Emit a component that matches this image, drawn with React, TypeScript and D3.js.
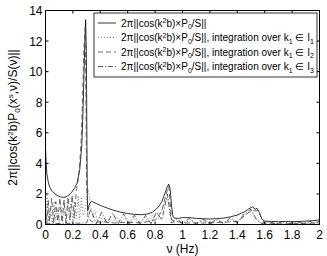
import React from "react";
import * as d3 from "d3";

const width = 327;
const height = 256;
const margin = { left: 45.5, right: 7.5, top: 10.5, bottom: 31.5 };
const font = "Liberation Sans, Arial, Helvetica, sans-serif";

const xTicks = [0, 0.2, 0.4, 0.6, 0.8, 1, 1.2, 1.4, 1.6, 1.8, 2];
const yTicks = [0, 2, 4, 6, 8, 10, 12, 14];

// full norm
const freqMain = [
  0, 0.005, 0.01, 0.02, 0.03, 0.05, 0.07, 0.09, 0.11, 0.13, 0.15, 0.17, 0.19, 0.21,
  0.23, 0.25, 0.265, 0.275, 0.285, 0.293, 0.298, 0.302, 0.305, 0.308, 0.312, 0.318,
  0.325, 0.335, 0.35, 0.37, 0.4, 0.45, 0.5, 0.55, 0.6, 0.65, 0.7, 0.74, 0.78, 0.82,
  0.85, 0.87, 0.89, 0.9, 0.91, 0.92, 0.93, 0.94, 0.97, 1.0, 1.05, 1.1, 1.15, 1.2,
  1.25, 1.3, 1.35, 1.4, 1.45, 1.48, 1.51, 1.53, 1.545, 1.56, 1.58, 1.6, 1.65, 1.7,
  1.75, 1.8, 1.85, 1.9, 1.95, 2.0,
];
const valMain = [
  5.0, 4.0, 3.3, 2.8, 2.45, 2.15, 1.98, 1.88, 1.8, 1.78, 1.8, 1.92, 2.1, 2.35,
  2.7, 3.6, 5.2, 7.8, 11.2, 13.4, 11.5, 6.0, 2.0, 0.9, 1.0, 1.25,
  1.4, 1.52, 1.45, 1.38, 1.25, 1.08, 0.92, 0.8, 0.72, 0.66, 0.64, 0.68, 0.8, 1.1,
  1.5, 2.0, 2.5, 2.65, 2.3, 1.2, 0.55, 0.42, 0.4, 0.45, 0.45, 0.4, 0.38, 0.36,
  0.38, 0.42, 0.5, 0.62, 0.82, 1.0, 1.15, 1.0, 1.05, 0.8, 0.35, 0.22, 0.2, 0.18,
  0.2, 0.18, 0.2, 0.22, 0.25, 0.3,
];

// integration over k1 in I1
const freqI1 = [
  0, 0.012, 0.022, 0.035, 0.05, 0.062, 0.075, 0.088, 0.1, 0.112, 0.125, 0.138, 0.15,
  0.162, 0.175, 0.188, 0.2, 0.212, 0.225, 0.238, 0.25, 0.262, 0.275, 0.29, 0.3, 0.31,
  0.32, 0.33, 0.345, 0.36, 0.38, 0.4, 0.42, 0.45, 0.48, 0.52, 0.55, 0.58, 0.62, 0.65,
  0.68, 0.72, 0.75, 0.78, 0.82, 0.86, 0.89, 0.91, 0.94, 0.98, 1.02, 1.06, 1.1, 1.15,
  1.2, 1.25, 1.3, 1.35, 1.4, 1.45, 1.5, 1.53, 1.57, 1.62, 1.68, 1.73, 1.8, 1.86, 1.92,
  2.0,
];
const valI1 = [
  0.3, 1.9, 0.2, 1.2, 0.1, 1.5, 0.3, 1.0, 0.1, 1.3, 0.2, 1.6, 0.1,
  1.4, 0.3, 1.7, 0.2, 1.5, 0.4, 1.9, 0.3, 1.8, 0.6, 1.0, 1.6, 2.3,
  1.8, 1.2, 0.5, 0.9, 0.2, 0.6, 0.1, 0.4, 0.1, 0.5, 0.15, 0.45, 0.1, 0.4,
  0.1, 0.45, 0.2, 0.6, 0.3, 1.2, 1.8, 0.6, 0.1, 0.3, 0.1, 0.3, 0.05, 0.25,
  0.05, 0.25, 0.1, 0.3, 0.2, 0.6, 0.9, 0.5, 0.1, 0.15, 0.05, 0.15, 0.05, 0.15, 0.05,
  0.2,
];

// integration over k1 in I2
const freqI2 = [
  0, 0.01, 0.02, 0.03, 0.045, 0.06, 0.075, 0.09, 0.105, 0.12, 0.135, 0.15, 0.165,
  0.18, 0.195, 0.21, 0.225, 0.24, 0.25, 0.26, 0.27, 0.28, 0.29, 0.3, 0.31, 0.32,
  0.36, 0.4, 0.5, 0.6, 0.7, 0.8, 0.85, 0.88, 0.9, 0.92, 1.0, 1.2, 1.4, 1.5, 1.55,
  1.6, 1.8, 2.0,
];
const valI2 = [
  1.2, 0.1, 1.6, 0.2, 1.7, 0.1, 1.5, 0.2, 1.75, 0.15, 1.6, 0.1, 1.8,
  0.3, 1.9, 0.4, 2.2, 3.0, 4.0, 5.5, 8.0, 11.5, 13.0, 3.0, 0.4, 0.3,
  0.1, 0.2, 0.1, 0.15, 0.1, 0.3, 0.9, 2.0, 2.5, 0.3, 0.1, 0.1, 0.2, 0.9, 0.9,
  0.05, 0.05, 0.1,
];

// integration over k1 in I3
const freqI3 = [
  0, 0.3, 0.33, 0.37, 0.41, 0.45, 0.49, 0.53, 0.57, 0.61, 0.65, 0.69, 0.73, 0.77,
  0.81, 0.85, 0.89, 0.92, 0.96, 1.0, 1.05, 1.1, 1.15, 1.2, 1.25, 1.3, 1.35, 1.4,
  1.45, 1.5, 1.54, 1.58, 1.63, 1.68, 1.73, 1.78, 1.83, 1.88, 1.93, 1.97, 2.0,
];
const valI3 = [
  0.05, 0.1, 1.0, 0.05, 0.8, 0.05, 0.75, 0.05, 0.7, 0.05, 0.6, 0.05, 0.6, 0.05,
  0.8, 0.3, 2.0, 0.1, 0.35, 0.05, 0.4, 0.05, 0.35, 0.05, 0.35, 0.05, 0.45, 0.1,
  0.7, 1.0, 0.3, 0.05, 0.2, 0.05, 0.2, 0.05, 0.2, 0.05, 0.2, 0.05, 0.25,
];

const series = [
  { f: freqMain, v: valMain, dash: "none", color: "#000", w: 0.8, suffix: "", sub: "" },
  { f: freqI1, v: valI1, dash: "1,2", color: "#666", w: 0.8, suffix: ", integration over k", sub: "1" },
  { f: freqI2, v: valI2, dash: "5,3", color: "#444", w: 0.8, suffix: ", integration over k", sub: "2" },
  { f: freqI3, v: valI3, dash: "5,2,1,2", color: "#333", w: 0.8, suffix: ", integration over k", sub: "3" },
];

const x = d3.scaleLinear().domain([0, 2]).range([margin.left, width - margin.right]);
const y = d3.scaleLinear().domain([0, 14]).range([height - margin.bottom, margin.top]);

const line = d3
  .line<[number, number]>()
  .x((d) => x(d[0]))
  .y((d) => y(d[1]));

const LegendText = ({ s }: { s: (typeof series)[number] }) => (
  <>
    2π||cos(k<tspan dy={-3.5} fontSize={7}>2</tspan>
    <tspan dy={3.5}>b)×P</tspan>
    <tspan dy={2.5} fontSize={7}>0</tspan>
    <tspan dy={-2.5}>/S||{s.suffix}</tspan>
    {s.sub && (
      <>
        <tspan dy={2.5} fontSize={7}>1</tspan>
        <tspan dy={-2.5}> ∈ I</tspan>
        <tspan dy={2.5} fontSize={7}>{s.sub}</tspan>
      </>
    )}
  </>
);

export default function App() {
  const x0 = margin.left;
  const x1 = width - margin.right;
  const y0 = height - margin.bottom;
  const y1 = margin.top;
  const legend = { x: 94, y: 13, w: 223, h: 64, row: 14.5 };

  return (
    <svg
      width={width}
      height={height}
      style={{ position: "absolute", left: 0, top: 0, background: "#fff" }}
      fontFamily={font}
    >
      <rect x={0} y={0} width={width} height={height} fill="#fff" />
      {series.map((s, i) => (
        <path
          key={i}
          d={line(s.f.map((f, j) => [f, s.v[j]] as [number, number])) || ""}
          fill="none"
          stroke={s.color}
          strokeWidth={s.w}
          strokeDasharray={s.dash}
        />
      ))}
      <rect x={x0} y={y1} width={x1 - x0} height={y0 - y1} fill="none" stroke="#000" strokeWidth={1} />
      {xTicks.map((t) => (
        <g key={t}>
          <line x1={x(t)} x2={x(t)} y1={y0} y2={y0 - 3} stroke="#000" />
          <line x1={x(t)} x2={x(t)} y1={y1} y2={y1 + 3} stroke="#000" />
          <text x={x(t)} y={y0 + 14} textAnchor="middle" fontSize={12}>
            {t}
          </text>
        </g>
      ))}
      {yTicks.map((t) => (
        <g key={t}>
          <line x1={x0} x2={x0 + 3} y1={y(t)} y2={y(t)} stroke="#000" />
          <line x1={x1} x2={x1 - 3} y1={y(t)} y2={y(t)} stroke="#000" />
          <text x={x0 - 3} y={y(t) + 4.5} textAnchor="end" fontSize={12}>
            {t}
          </text>
        </g>
      ))}
      <text x={(x0 + x1) / 2} y={y0 + 28.5} textAnchor="middle" fontSize={12}>
        ν (Hz)
      </text>
      <text
        transform={`translate(17, ${(y0 + y1) / 2}) rotate(-90)`}
        textAnchor="middle"
        fontSize={12}
      >
        2π||cos(k<tspan dy={-4} fontSize={8}>2</tspan>
        <tspan dy={4}>b)P</tspan>
        <tspan dy={3} fontSize={8}>0</tspan>
        <tspan dy={-3}>(x</tspan>
        <tspan dy={-4} fontSize={8}>s</tspan>
        <tspan dy={4}>,ν)/S(ν)||</tspan>
      </text>
      <rect
        x={legend.x}
        y={legend.y}
        width={legend.w}
        height={legend.h}
        fill="#fff"
        stroke="#000"
        strokeWidth={0.8}
      />
      {series.map((s, i) => {
        const ly = legend.y + 10 + i * legend.row;
        return (
          <g key={i}>
            <line
              x1={legend.x + 4}
              x2={legend.x + 22}
              y1={ly}
              y2={ly}
              stroke={s.color}
              strokeWidth={s.w}
              strokeDasharray={s.dash}
            />
            <text x={legend.x + 27} y={ly + 3.5} fontSize={10}>
              <LegendText s={s} />
            </text>
          </g>
        );
      })}
    </svg>
  );
}
